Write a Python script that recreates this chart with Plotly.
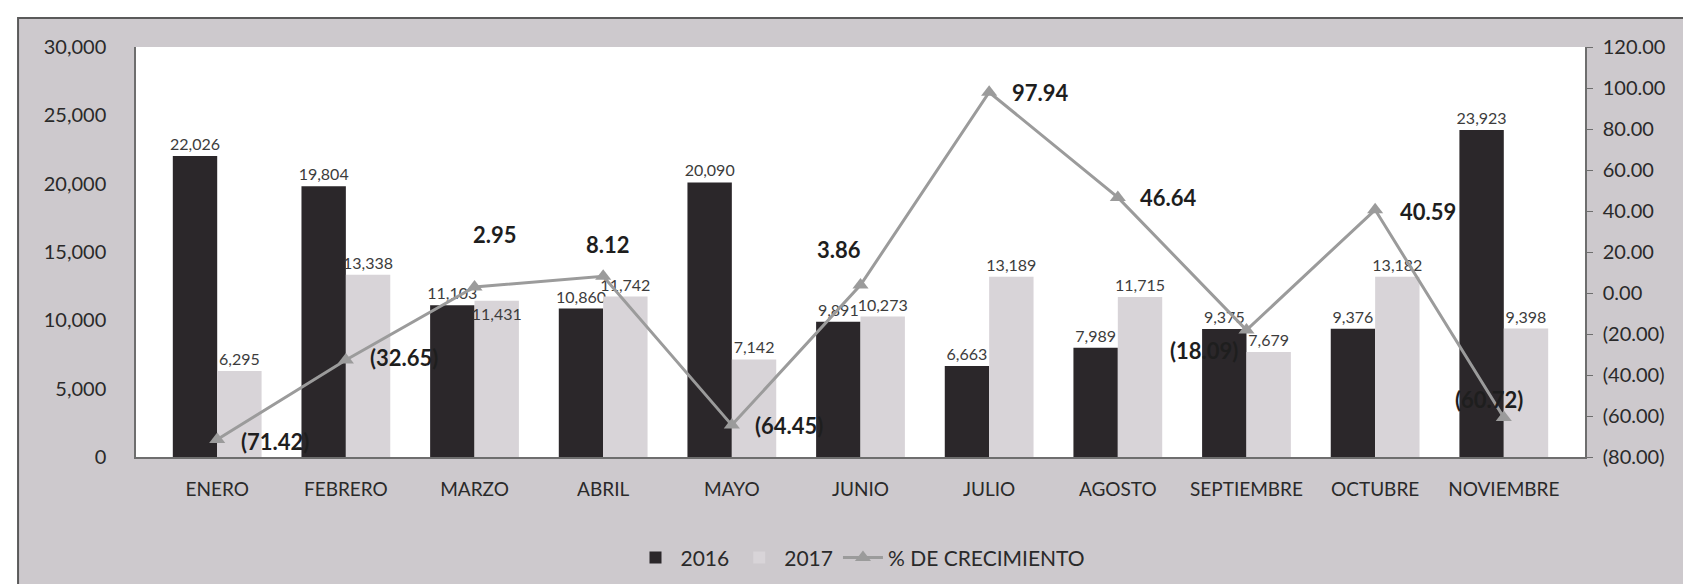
import plotly.graph_objects as go

# datos
meses = ["ENERO", "FEBRERO", "MARZO", "ABRIL", "MAYO", "JUNIO", "JULIO",
         "AGOSTO", "SEPTIEMBRE", "OCTUBRE", "NOVIEMBRE"]
v2016 = [22026, 19804, 11103, 10860, 20090, 9891, 6663, 7989, 9375, 9376, 23923]
v2017 = [6295, 13338, 11431, 11742, 7142, 10273, 13189, 11715, 7679, 13182, 9398]
crecimiento = [-71.42, -32.65, 2.95, 8.12, -64.45, 3.86, 97.94, 46.64, -18.09, 40.59, -60.72]

ticks_pct = [-80, -60, -40, -20, 0, 20, 40, 60, 80, 100, 120]

# desplazamiento (px) de cada etiqueta del % respecto a su punto
dx_etiquetas = [58, 58, 20, 5, 57, -22, 51, 51, -42, 53, -15]
dy_etiquetas = [-2, 2, 52, 32, 0, 36, 0, 0, -20, -2, 18]

# en marzo la etiqueta de 2017 va dentro de la barra (como en el original)
pos_2017 = ["outside", "outside", "inside", "outside", "outside", "outside",
            "outside", "outside", "outside", "outside", "outside"]

FONT = "Lato"
GRIS_FONDO = "#cdc9cd"
OSCURO = "#2b272a"
CLARO = "#d8d4d8"
LINEA = "#9b9b9b"
TXT = "#2a2a2a"
TXT_BARRA = "#3c3c3c"


def fmt_pct(v):
    return "({:.2f})".format(abs(v)) if v < 0 else "{:.2f}".format(v)


fig = go.Figure()

fig.add_trace(go.Bar(x=meses, y=v2016, name="2016",
                     marker=dict(color=OSCURO, line_width=0),
                     text=["{:,}".format(v) for v in v2016], textposition="outside",
                     constraintext="none", textangle=0,
                     textfont=dict(size=16, color=TXT_BARRA, family=FONT),
                     cliponaxis=False))
fig.add_trace(go.Bar(x=meses, y=v2017, name="2017",
                     marker=dict(color=CLARO, line_width=0),
                     text=["{:,}".format(v) for v in v2017], textposition=pos_2017,
                     insidetextanchor="end", constraintext="none", textangle=0,
                     textfont=dict(size=16, color=TXT_BARRA, family=FONT),
                     insidetextfont=dict(size=16, color=TXT_BARRA, family=FONT),
                     outsidetextfont=dict(size=16, color=TXT_BARRA, family=FONT),
                     cliponaxis=False))
fig.add_trace(go.Scatter(x=meses, y=crecimiento, name="% DE CRECIMIENTO", yaxis="y2",
                         mode="lines+markers",
                         line=dict(color=LINEA, width=3),
                         marker=dict(symbol="triangle-up", size=14, color=LINEA),
                         cliponaxis=False))

# etiquetas del % de crecimiento
for mes, v, dx, dy in zip(meses, crecimiento, dx_etiquetas, dy_etiquetas):
    fig.add_annotation(x=mes, y=v, xref="x", yref="y2", text=fmt_pct(v),
                       showarrow=False, xshift=dx, yshift=dy,
                       font=dict(size=22, color="#1e1e1e", family=FONT, weight="bold"))

# marco gris exterior y area blanca del grafico
fig.add_shape(type="rect", xref="paper", yref="paper",
              x0=-0.0814, x1=1.0773, y0=-0.3244, y1=1.0707,
              fillcolor=GRIS_FONDO, line=dict(color="#5a5a5a", width=2), layer="below")
fig.add_shape(type="rect", xref="paper", yref="paper",
              x0=0, x1=1, y0=0, y1=1,
              fillcolor="white", line_width=0, layer="below")

fig.update_xaxes(showgrid=False, showline=True, linecolor="#6e6e6e", linewidth=1.5,
                 ticks="", tickfont=dict(size=19, color=TXT, family=FONT),
                 ticklabelstandoff=14, automargin=False)
fig.update_layout(
    yaxis=dict(range=[0, 30000], dtick=5000, tickformat=",d", showgrid=False,
               zeroline=False, showline=True, linecolor="#6e6e6e", linewidth=1.5,
               tickfont=dict(size=20, color=TXT, family=FONT), ticklabelstandoff=24,
               automargin=False),
    yaxis2=dict(range=[-80, 120], tickvals=ticks_pct, ticktext=[fmt_pct(v) for v in ticks_pct],
                overlaying="y", side="right",
                showgrid=False, zeroline=False, showline=True, linecolor="#6e6e6e",
                linewidth=1.5, ticks="outside", ticklen=6, tickcolor="#6e6e6e",
                tickfont=dict(size=20, color=TXT, family=FONT), ticklabelstandoff=6,
                automargin=False),
    barmode="group", bargap=0.31, bargroupgap=0,
    plot_bgcolor="white", paper_bgcolor="white",
    width=1691, height=584,
    margin=dict(l=128, r=114, t=39, b=135),
    font=dict(family=FONT, color=TXT),
    legend=dict(orientation="h", x=0.5, xanchor="center", y=-0.246, yanchor="middle",
                bgcolor="rgba(0,0,0,0)", font=dict(size=21, color=TXT, family=FONT),
                itemwidth=40),
)

fig.write_html("out.html")
